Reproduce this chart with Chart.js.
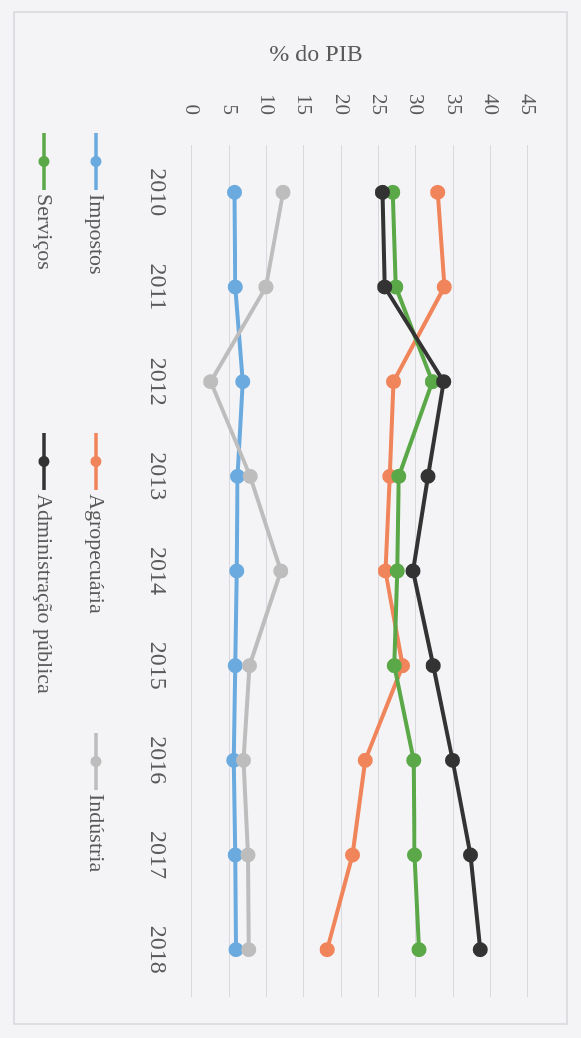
<!DOCTYPE html>
<html>
<head>
<meta charset="utf-8">
<style>
html,body{margin:0;padding:0;background:#f3f3f5;overflow:hidden;width:581px;height:1038px;}
#rot{position:absolute;left:0;top:0;width:1038px;height:581px;transform-origin:0 0;transform:translateX(581px) rotate(90deg);}
canvas{display:block;}
</style>
<script src="https://cdn.jsdelivr.net/npm/chart.js@4.4.1/dist/chart.umd.min.js"></script>
</head>
<body>
<div id="rot"><canvas id="c" width="1038" height="581"></canvas></div>
<script>
const years = ['2010','2011','2012','2013','2014','2015','2016','2017','2018'];
const impostos = [5.7, 5.8, 6.8, 6.1, 6.0, 5.8, 5.6, 5.8, 5.9];
const agropecuaria = [32.9, 33.8, 27.0, 26.5, 25.9, 28.2, 23.2, 21.5, 18.1];
const industria = [12.2, 9.9, 2.5, 7.8, 11.9, 7.7, 6.9, 7.5, 7.6];
const servicos = [26.9, 27.3, 32.2, 27.7, 27.5, 27.1, 29.7, 29.8, 30.4];
const administracao = [25.5, 25.8, 33.7, 31.6, 29.6, 32.3, 34.9, 37.3, 38.6];
const seriesNames = ['Impostos','Agropecuária','Indústria','Serviços','Administração pública'];
const seriesValues = [impostos, agropecuaria, industria, servicos, administracao];
const seriesColors = ['#6aaadf','#f0845a','#bdbdbd','#5ba848','#333333'];
const axisTitle = '% do PIB';

const FONT = '"Liberation Serif", "DejaVu Serif", serif';
const TEXT = '#5a5a5a';

const datasets = seriesNames.map((n, i) => ({
  label: n,
  data: seriesValues[i],
  borderColor: seriesColors[i],
  backgroundColor: seriesColors[i],
  pointBackgroundColor: seriesColors[i],
  pointBorderColor: seriesColors[i],
  borderWidth: 4,
  pointRadius: 5.5,
  pointHoverRadius: 5.5,
  tension: 0,
  order: seriesNames.length - 1 - i
}));

const bgPlugin = {
  id: 'bg',
  beforeDraw(chart) {
    const ctx = chart.ctx;
    ctx.save();
    ctx.fillStyle = '#f4f4f6';
    ctx.fillRect(0, 0, chart.width, chart.height);
    ctx.strokeStyle = '#d6d6dc';
    ctx.lineWidth = 1.5;
    ctx.strokeRect(12, 14, chart.width - 26, chart.height - 28);
    ctx.restore();
  }
};

const extrasPlugin = {
  id: 'extras',
  afterDraw(chart) {
    const ctx = chart.ctx;
    const a = chart.chartArea;
    ctx.save();
    // axis title
    ctx.translate(a.left - 90, a.bottom - 124);
    ctx.rotate(-Math.PI / 2);
    ctx.font = '24px ' + FONT;
    ctx.fillStyle = TEXT;
    ctx.textAlign = 'center';
    ctx.textBaseline = 'middle';
    ctx.fillText(axisTitle, 0, 0);
    ctx.restore();

    // legend
    ctx.save();
    ctx.font = '22px ' + FONT;
    ctx.textBaseline = 'middle';
    ctx.textAlign = 'left';
    chart.data.datasets.forEach((ds, i) => {
      const row = i < 3 ? 0 : 1;
      const col = i < 3 ? i : i - 3;
      const x = a.left - 12 + col * 300;
      const y = a.bottom + 96 + row * 52;
      ctx.strokeStyle = ds.borderColor;
      ctx.lineWidth = 3.5;
      ctx.beginPath();
      ctx.moveTo(x, y);
      ctx.lineTo(x + 57, y);
      ctx.stroke();
      ctx.fillStyle = ds.borderColor;
      ctx.beginPath();
      ctx.arc(x + 28.5, y, 5.5, 0, Math.PI * 2);
      ctx.fill();
      ctx.fillStyle = TEXT;
      ctx.fillText(ds.label, x + 61, y);
    });
    ctx.restore();
  }
};

new Chart(document.getElementById('c'), {
  type: 'line',
  data: { labels: years, datasets },
  options: {
    responsive: false,
    animation: false,
    devicePixelRatio: 1,
    layout: { padding: { left: 40, right: 41, top: 53, bottom: 132 } },
    plugins: { legend: { display: false }, tooltip: { enabled: false } },
    scales: {
      x: {
        type: 'category',
        offset: true,
        grid: { display: false, drawTicks: false },
        border: { display: false },
        ticks: { font: { family: FONT, size: 24 }, color: TEXT, padding: 20, maxRotation: 0, minRotation: 0 },
        afterFit(scale) { scale.height = 60; }
      },
      y: {
        min: 0,
        max: 45,
        grid: { color: '#d8d8de', lineWidth: 1, drawTicks: false },
        border: { display: false },
        ticks: { stepSize: 5, font: { family: FONT, size: 21 }, color: TEXT, padding: 30 },
        afterFit(scale) { scale.width = 105; }
      }
    }
  },
  plugins: [bgPlugin, extrasPlugin]
});
</script>
</body>
</html>
